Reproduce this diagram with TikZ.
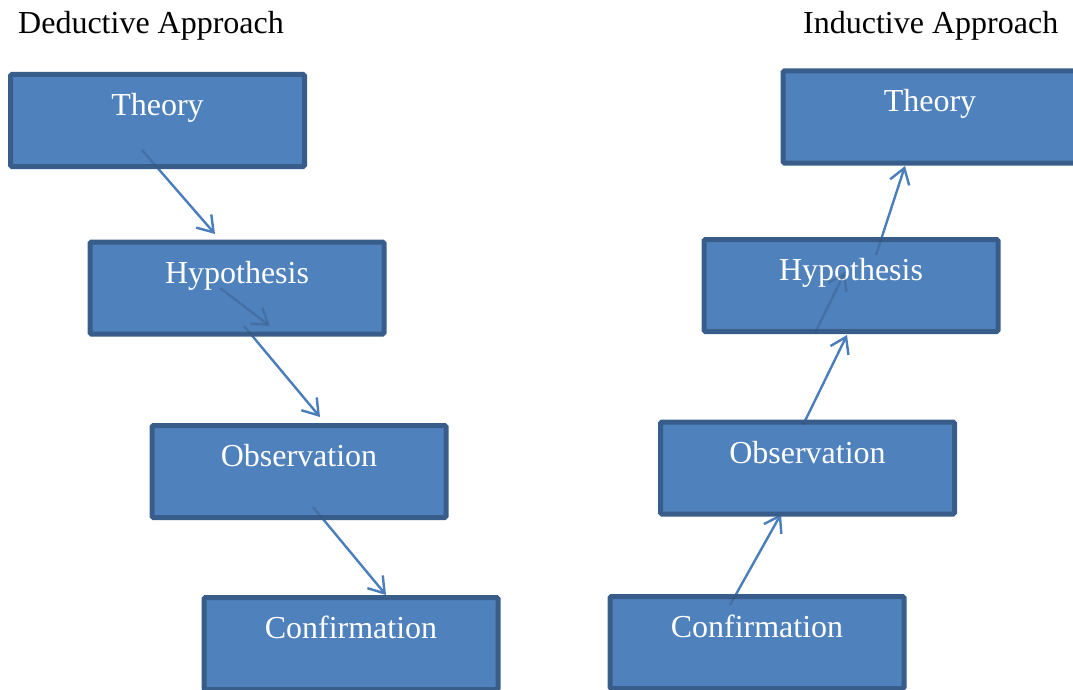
\documentclass[tikz,border=0pt]{standalone}
\usepackage{fontspec}
\setmainfont{Liberation Serif}
\usetikzlibrary{arrows.meta}
\definecolor{boxfill}{HTML}{4F81BD}
\definecolor{boxline}{HTML}{385D8A}
\definecolor{arrowc}{HTML}{4A7EBB}
\tikzset{
  stagebox/.style={draw=boxline, line width=5pt, fill=boxfill, text=white, inner sep=0pt,
    minimum width=294pt, text height=41pt, text depth=51pt,
    font=\fontsize{32}{38}\selectfont, rounded corners=1.5pt},
  arr/.style={draw=arrowc, line width=2.4pt, -{Straight Barb[length=15pt,width=20pt,line width=2.4pt]}},
  faint/.style={arr, draw=arrowc!60!black, draw opacity=0.3},
  title/.style={anchor=base west, inner sep=0pt, font=\fontsize{32}{38}\selectfont, text=black}
}
\begin{document}
\begin{tikzpicture}[x=1pt,y=-1pt]
\useasboundingbox (0,0) rectangle (1073,690);
\clip (0,0) rectangle (1073,690);
\node[title] (dt) at (18,34) {Deductive Approach};
\node[title] (it) at (803,34) {Inductive Approach};
\coordinate (dT) at (157.5,120.5);
\coordinate (dH) at (237,288);
\coordinate (dO) at (299,471.5);
\coordinate (dC) at (351,643.5);
\coordinate (iT) at (930,117);
\coordinate (iH) at (851,285.5);
\coordinate (iO) at (807.5,468);
\coordinate (iC) at (757,642.5);
% arrow start / end points
\coordinate (a1s) at ([shift={(-15.5,29.5)}]dT);  \coordinate (a1e) at ([shift={(-22,-54)}]dH);
\coordinate (g1s) at ([shift={(-17,0)}]dH);       \coordinate (g1e) at ([shift={(33,38)}]dH);
\coordinate (a2s) at ([shift={(7,38)}]dH);        \coordinate (a2e) at ([shift={(21,-54.5)}]dO);
\coordinate (a3s) at ([shift={(14,35.5)}]dO);     \coordinate (a3e) at ([shift={(35,-48.5)}]dC);
\coordinate (b1s) at ([shift={(-27,-37.5)}]iC);   \coordinate (b1e) at ([shift={(-26.5,46)}]iO);
\coordinate (b2s) at ([shift={(-4.5,-43)}]iO);    \coordinate (b2e) at ([shift={(-4,49.5)}]iH);
\coordinate (g2s) at ([shift={(-36,47.5)}]iH);    \coordinate (g2e) at ([shift={(-6,-13.5)}]iH);
\coordinate (b3s) at ([shift={(25,-30.5)}]iH);    \coordinate (b3e) at ([shift={(-25,49)}]iT);
% solid arrows (inner parts hidden by boxes)
\draw[arr] (a1s) -- (a1e);
\draw[arr] (a2s) -- (a2e);
\draw[arr] (a3s) -- (a3e);
\draw[arr] (b1s) -- (b1e);
\draw[arr] (b2s) -- (b2e);
\draw[arr] (b3s) -- (b3e);
% boxes
\node[stagebox] (bdT) at (dT) {Theory};
\node[stagebox] (bdH) at (dH) {Hypothesis};
\node[stagebox] (bdO) at (dO) {Observation};
\node[stagebox] (bdC) at (dC) {Confirmation};
\node[stagebox] (biT) at (iT) {Theory};
\node[stagebox] (biH) at (iH) {Hypothesis};
\node[stagebox] (biO) at (iO) {Observation};
\node[stagebox] (biC) at (iC) {Confirmation};
% arrow parts seen faintly through the boxes
\begin{scope}
  \clip ([shift={(2.5,-2.5)}]bdT.south west) rectangle ([shift={(-2.5,2.5)}]bdT.north east);
  \draw[faint] (a1s) -- (a1e);
\end{scope}
\begin{scope}
  \clip ([shift={(2.5,-2.5)}]bdH.south west) rectangle ([shift={(-2.5,2.5)}]bdH.north east);
  \draw[faint] (a2s) -- (a2e);
\end{scope}
\begin{scope}
  \clip ([shift={(2.5,-2.5)}]bdO.south west) rectangle ([shift={(-2.5,2.5)}]bdO.north east);
  \draw[faint] (a3s) -- (a3e);
\end{scope}
\begin{scope}
  \clip ([shift={(2.5,-2.5)}]biC.south west) rectangle ([shift={(-2.5,2.5)}]biC.north east);
  \draw[faint] (b1s) -- (b1e);
\end{scope}
\begin{scope}
  \clip ([shift={(2.5,-2.5)}]biO.south west) rectangle ([shift={(-2.5,2.5)}]biO.north east);
  \draw[faint] (b2s) -- (b2e);
\end{scope}
\begin{scope}
  \clip ([shift={(2.5,-2.5)}]biH.south west) rectangle ([shift={(-2.5,2.5)}]biH.north east);
  \draw[faint] (b3s) -- (b3e);
\end{scope}
\draw[faint] (g1s) -- (g1e);
\draw[faint] (g2s) -- (g2e);
\end{tikzpicture}
\end{document}
